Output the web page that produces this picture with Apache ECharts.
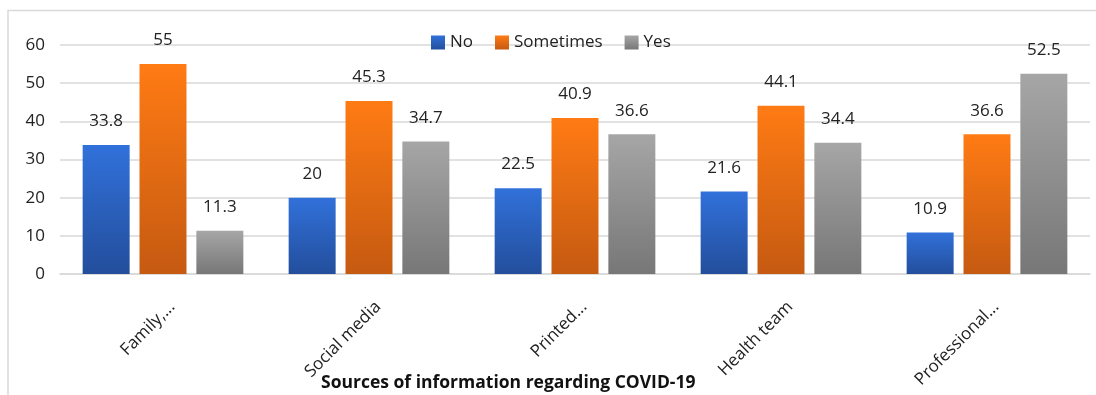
<!DOCTYPE html>
<html>
<head>
<meta charset="utf-8">
<script src="https://cdn.jsdelivr.net/npm/echarts@6/dist/echarts.min.js"></script>
<style>
    html, body {margin: 0; padding: 0; background: #fff;}
    #chart {width: 1096px; height: 395px;}
</style>
</head>
<body>
<div id="chart"></div>
<script>
var categories = ['Family,...', 'Social media', 'Printed...', 'Health team', 'Professional...'];
var noData = [33.8, 20, 22.5, 21.6, 10.9];
var sometimesData = [55, 45.3, 40.9, 44.1, 36.6];
var yesData = [11.3, 34.7, 36.6, 34.4, 52.5];
var yTicks = [0, 60, 10];

var fontName = 'Open Sans';

function grad(top, bottom) {
    return new echarts.graphic.LinearGradient(0, 0, 0, 1, [
        {offset: 0, color: top},
        {offset: 1, color: bottom}
    ]);
}

function makeSeries(name, data, top, bottom) {
    return {
        name: name,
        type: 'bar',
        data: data,
        barGap: '21%',
        barCategoryGap: '22%',
        itemStyle: {color: grad(top, bottom)},
        label: {
            show: true,
            position: 'top',
            distance: 15,
            color: '#222',
            fontSize: 17,
            fontFamily: fontName
        }
    };
}

var chart = echarts.init(document.getElementById('chart'));

var option = {
    animation: false,
    textStyle: {fontFamily: fontName},
    title: {
        text: 'Sources of information regarding COVID-19',
        left: 316,
        top: 369,
        textStyle: {fontSize: 17.5, fontWeight: 'bold', color: '#111', fontFamily: fontName}
    },
    legend: {
        data: ['No', 'Sometimes', 'Yes'],
        left: 426,
        top: 29,
        itemWidth: 14,
        itemHeight: 14,
        itemGap: 22,
        icon: 'rect',
        textStyle: {fontSize: 17, color: '#222', fontFamily: fontName}
    },
    grid: {
        left: 60,
        right: 6,
        top: 45,
        bottom: 121,
        containLabel: false
    },
    xAxis: {
        type: 'category',
        data: categories,
        axisTick: {show: false},
        axisLine: {lineStyle: {color: '#d9d9d9', width: 1.5}},
        axisLabel: {
            interval: 0,
            rotate: 45,
            margin: 21,
            verticalAlign: 'top',
            lineHeight: 26,
            fontSize: 17,
            color: '#222',
            fontFamily: fontName
        }
    },
    yAxis: {
        type: 'value',
        min: yTicks[0],
        max: yTicks[1],
        interval: yTicks[2],
        axisLine: {show: false},
        axisTick: {show: false},
        splitLine: {lineStyle: {color: '#d9d9d9', width: 1.5}},
        axisLabel: {fontSize: 17, color: '#222', margin: 15, fontFamily: fontName}
    },
    graphic: [{
        type: 'polyline',
        silent: true,
        shape: {points: [[8, 395], [8, 10.5], [1096, 10.5]]},
        style: {stroke: '#d9d9d9', lineWidth: 1.5, fill: null}
    }],
    series: [
        makeSeries('No', noData, '#3171da', '#234e9c'),
        makeSeries('Sometimes', sometimesData, '#ff7b14', '#c55a11'),
        makeSeries('Yes', yesData, '#a6a6a6', '#777777')
    ]
};

chart.setOption(option);
</script>
</body>
</html>
